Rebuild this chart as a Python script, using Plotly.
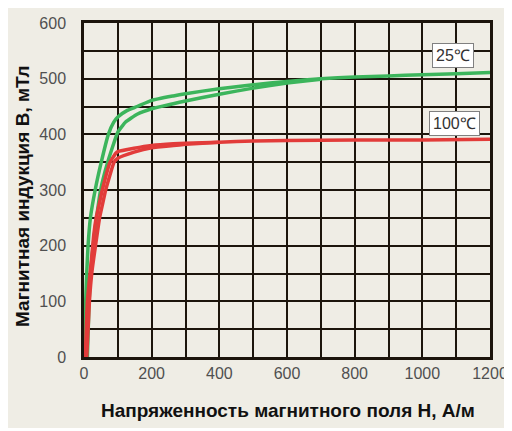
import plotly.graph_objects as go

# 25 °C loop (upper / lower branch)
h25_upper = [3, 5, 8, 12, 19, 33, 51, 72, 88, 100, 128, 157, 200, 264, 300, 400, 500, 600, 700, 800, 900, 1000, 1100, 1200]
b25_upper = [0, 100, 150, 200, 250, 300, 350, 400, 422, 431, 443, 450, 461, 469, 473, 482, 489, 495, 500, 503, 505, 507, 509, 511]
h25_lower = [10, 15, 20, 27, 37, 49, 70, 100, 123, 157, 200, 264, 300, 400, 500, 600, 700]
b25_lower = [0, 100, 156, 200, 250, 300, 350, 404, 422, 436, 446, 455, 460, 472, 483, 492, 499]

# 100 °C loop (upper / lower branch)
h100_upper = [4, 10, 22, 29, 36, 45, 54, 77, 94, 100, 148, 200, 264, 300, 400, 500, 600, 800, 1000, 1200]
b100_upper = [0, 100, 175, 220, 250, 275, 300, 350, 366, 369, 375, 380, 383, 384, 386, 388, 389, 390, 390, 391]
h100_lower = [8, 16, 24, 34, 46, 55, 64, 89, 100, 148, 200, 264, 300, 400]
b100_lower = [0, 100, 156, 200, 250, 275, 300, 350, 357, 368, 376, 380, 382, 386]

x_ticks = [0, 200, 400, 600, 800, 1000, 1200]
y_ticks = [0, 100, 200, 300, 400, 500, 600]
labels = ["25℃", "100℃"]
label_h = [1090, 1094]
label_b = [541, 420]

GREEN = "#3cb55c"
RED = "#e23c3a"
CREAM = "#efede5"
GRID = "#1c150c"

# the page body adds an 8 px offset; figure spans page x 8..512, y 8..428
PW, PH = 504, 420
ML, MT, MR, MB = 76, 15, 22, 71
plot_w = PW - ML - MR
plot_h = PH - MT - MB

fig = go.Figure()
for hx, by, col in [(h25_upper, b25_upper, GREEN), (h25_lower, b25_lower, GREEN),
                    (h100_upper, b100_upper, RED), (h100_lower, b100_lower, RED)]:
    fig.add_trace(go.Scatter(x=hx, y=by, mode="lines",
                             line=dict(color=col, width=3.5, shape="spline", smoothing=0.4),
                             showlegend=False, hoverinfo="skip"))

for t, hx, by in zip(labels, label_h, label_b):
    fig.add_annotation(x=hx, y=by, text=t, showarrow=False, bgcolor="white", bordercolor="#808080",
                       borderwidth=1, borderpad=3,
                       font=dict(family="Liberation Sans, Arial", size=16, color="#333"))

# axis titles
fig.add_annotation(xref="paper", yref="paper", x=(288 - 84) / plot_w, y=-(410 - 357) / plot_h,
                   xanchor="center", yanchor="middle",
                   text="Напряженность магнитного поля Н, А/м", showarrow=False,
                   font=dict(family="Liberation Sans, Arial", size=19, color="#111", weight="bold"))
fig.add_annotation(xref="paper", yref="paper", x=-(84 - 22) / plot_w, y=(357 - 197) / plot_h,
                   xanchor="center", yanchor="middle",
                   text="Магнитная индукция В, мТл", showarrow=False, textangle=-90,
                   font=dict(family="Liberation Sans, Arial", size=19, color="#111", weight="bold"))

fig.update_layout(
    width=PW, height=PH,
    margin=dict(l=ML, r=MR, t=MT, b=MB, autoexpand=False),
    paper_bgcolor=CREAM, plot_bgcolor=CREAM,
    font=dict(family="Liberation Sans, Arial", size=16, color="#505050"),
)
fig.update_xaxes(range=[0, 1200], tickvals=x_ticks, ticks="", showgrid=True, gridcolor=GRID, gridwidth=2.2,
                 minor=dict(dtick=100, tick0=0, showgrid=True, gridcolor=GRID, gridwidth=2),
                 zeroline=False, showline=True, mirror=True, linecolor=GRID, linewidth=2.5,
                 automargin=False, ticklabelstandoff=0)
fig.update_yaxes(range=[0, 600], tickvals=y_ticks, ticks="", showgrid=True, gridcolor=GRID, gridwidth=2.2,
                 minor=dict(dtick=50, tick0=0, showgrid=True, gridcolor=GRID, gridwidth=2),
                 zeroline=False, showline=True, mirror=True, linecolor=GRID, linewidth=2.5,
                 automargin=False, ticklabelstandoff=12)

fig.write_html("out.html")
